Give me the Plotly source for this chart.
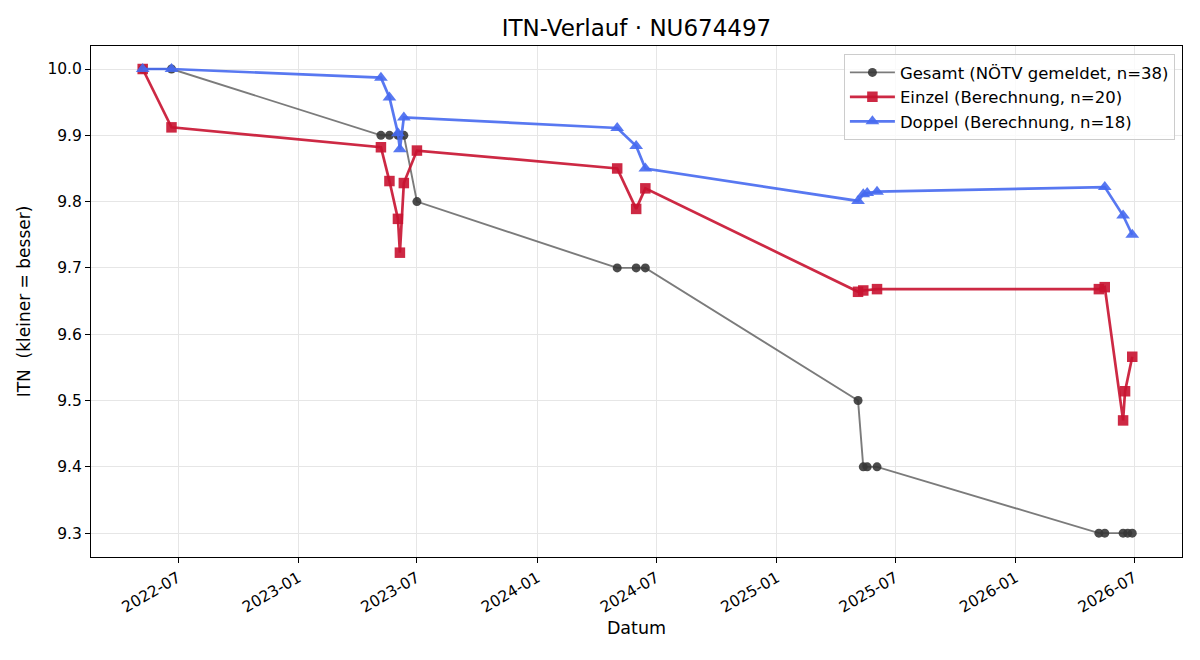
import plotly.graph_objects as go

# Gesamt (NÖTV gemeldet)
ges_dates = ["2022-05-08", "2022-06-21",
             "2023-05-07", "2023-05-20", "2023-06-02", "2023-06-05", "2023-06-11", "2023-07-01",
             "2024-05-02", "2024-05-31", "2024-06-14",
             "2025-05-05", "2025-05-13", "2025-05-19", "2025-06-03",
             "2026-05-08", "2026-05-17", "2026-06-14", "2026-06-21", "2026-06-28"]
ges_vals = [10.0, 10.0,
            9.9, 9.9, 9.9, 9.9, 9.9, 9.8,
            9.7, 9.7, 9.7,
            9.5, 9.4, 9.4, 9.4,
            9.3, 9.3, 9.3, 9.3, 9.3]

# Einzel (Berechnung)
ein_dates = ["2022-05-08", "2022-06-21",
             "2023-05-07", "2023-05-20", "2023-06-02", "2023-06-05", "2023-06-11", "2023-07-01",
             "2024-05-02", "2024-05-31", "2024-06-14",
             "2025-05-05", "2025-05-13", "2025-06-03",
             "2026-05-08", "2026-05-17", "2026-06-14", "2026-06-17", "2026-06-28"]
ein_vals = [10.0, 9.912,
            9.882, 9.831, 9.774, 9.723, 9.828, 9.877,
            9.850, 9.789, 9.820,
            9.664, 9.666, 9.668,
            9.668, 9.671, 9.470, 9.514, 9.566]

# Doppel (Berechnung)
dop_dates = ["2022-05-08", "2022-06-21",
             "2023-05-07", "2023-05-20", "2023-06-02", "2023-06-05", "2023-06-11",
             "2024-05-02", "2024-05-31", "2024-06-14",
             "2025-05-05", "2025-05-13", "2025-05-19", "2025-06-03",
             "2026-05-17", "2026-06-14", "2026-06-28"]
dop_vals = [10.0, 10.0,
            9.987, 9.957, 9.903, 9.879, 9.927,
            9.911, 9.884, 9.850,
            9.801, 9.811, 9.813, 9.815,
            9.822, 9.779, 9.750]

FONT = "DejaVu Sans"

fig = go.Figure()
fig.add_trace(go.Scatter(
    x=ges_dates, y=ges_vals, mode="lines+markers",
    name="Gesamt (NÖTV gemeldet, n=38)",
    line=dict(color="rgba(90,90,90,0.8)", width=1.9),
    marker=dict(symbol="circle", size=9, color="rgba(55,55,55,0.9)"),
))
fig.add_trace(go.Scatter(
    x=ein_dates, y=ein_vals, mode="lines+markers",
    name="Einzel (Berechnung, n=20)",
    line=dict(color="rgba(200,18,48,0.9)", width=2.7),
    marker=dict(symbol="square", size=10.5, color="rgba(200,18,48,0.9)"),
))
fig.add_trace(go.Scatter(
    x=dop_dates, y=dop_vals, mode="lines+markers",
    name="Doppel (Berechnung, n=18)",
    line=dict(color="rgba(70,105,240,0.9)", width=2.7),
    marker=dict(symbol="triangle-up", size=12, color="rgba(70,105,240,0.9)"),
))

fig.update_layout(
    width=1200, height=660,
    margin=dict(l=91, r=18, t=46, b=103),
    paper_bgcolor="white", plot_bgcolor="white",
    font=dict(family=FONT, size=15, color="black"),
    title=dict(text="ITN-Verlauf · NU674497", x=0.5, xref="paper", xanchor="center",
               y=0.957, yanchor="middle", font=dict(size=23, family=FONT)),
    legend=dict(x=0.9935, y=0.984, xanchor="right", yanchor="top",
                bgcolor="rgba(255,255,255,0.8)", bordercolor="#cccccc", borderwidth=1,
                font=dict(size=16.5, family=FONT), tracegroupgap=0, itemwidth=45),
    showlegend=True,
)
fig.update_xaxes(
    type="date", range=["2022-02-18", "2026-09-12"],
    tick0="2022-01-01", dtick="M6", tickformat="%Y-%m", tickangle=-30,
    showgrid=True, gridcolor="#e6e6e6", gridwidth=1,
    showline=True, linecolor="black", linewidth=1, mirror=True,
    ticks="outside", ticklen=5, tickcolor="black",
    tickfont=dict(size=15.5), zeroline=False,
    title=dict(text="Datum", font=dict(size=17.5), standoff=6),
)
fig.update_yaxes(
    range=[9.264, 10.0347], dtick=0.1, tickformat=".1f",
    showgrid=True, gridcolor="#e6e6e6", gridwidth=1,
    showline=True, linecolor="black", linewidth=1, mirror=True,
    ticks="outside", ticklen=5, tickcolor="black",
    tickfont=dict(size=15.5), zeroline=False,
    title=dict(text="ITN\u00a0\u00a0(kleiner = besser)", font=dict(size=17), standoff=12),
)

fig.write_html("out.html")
